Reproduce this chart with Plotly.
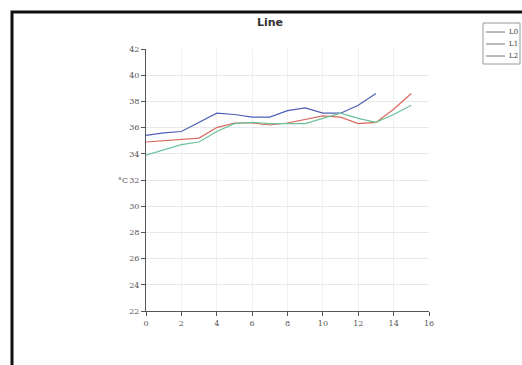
import plotly.graph_objects as go

x_l0 = list(range(14))
l0 = [35.4, 35.6, 35.7, 36.4, 37.1, 37.0, 36.8, 36.8, 37.3, 37.5, 37.1, 37.1, 37.7, 38.6]
x_l12 = list(range(16))
l1 = [34.9, 35.0, 35.05, 35.2, 36.0, 36.35, 36.35, 36.2, 36.35, 36.6, 36.9, 36.8, 36.3, 36.4, 37.4, 38.6]
l2 = [33.9, 34.3, 34.7, 34.9, 35.7, 36.3, 36.4, 36.3, 36.3, 36.3, 36.7, 37.1, 36.7, 36.4, 37.0, 37.7]
names = ["L0", "L1", "L2"]
colors = ["#4e5fb5", "#d9685e", "#6cc29a"]
x_ticks = list(range(0, 17, 2))
y_ticks = list(range(22, 43, 2))

L, T, PW, PH = 146, 49, 283, 262


def px(ax):
    return (ax - L) / PW


def py(ay):
    return (T + PH - ay) / PH


fig = go.Figure()
for xs, ys, n, c in [(x_l0, l0, names[0], colors[0]), (x_l12, l1, names[1], colors[1]), (x_l12, l2, names[2], colors[2])]:
    fig.add_trace(go.Scatter(x=xs, y=ys, name=n, mode="lines", line=dict(color=c, width=1.2),
                             showlegend=False))

fig.update_layout(
    width=522, height=365,
    margin=dict(l=L, r=522 - L - PW, t=T, b=365 - T - PH, autoexpand=False),
    paper_bgcolor="white", plot_bgcolor="white",
    title=dict(text="<b>Line</b>", x=270 / 522, xanchor="center", y=1 - 22 / 365,
               yanchor="middle", font=dict(family="DejaVu Sans", size=11, color="#333")),
    showlegend=False,
)
fig.update_xaxes(range=[0, 16], tickvals=x_ticks, showgrid=True, gridcolor="#f0f0f0",
                 showline=True, linecolor="#555", linewidth=1, ticks="outside", ticklen=4,
                 tickcolor="#555", zeroline=False,
                 tickfont=dict(family="DejaVu Serif", size=8, color="#555"))
fig.update_yaxes(range=[22, 42], tickvals=y_ticks, showgrid=True, gridcolor="#e8e8e8",
                 showline=True, linecolor="#555", linewidth=1, ticks="outside", ticklen=4,
                 tickcolor="#555", zeroline=False,
                 tickfont=dict(family="DejaVu Serif", size=8, color="#555"))
fig.add_annotation(text="°C", xref="paper", yref="y", x=px(116), y=32, showarrow=False,
                   font=dict(family="DejaVu Serif", size=8, color="#555"))

# outer frame
fig.add_shape(type="rect", xref="paper", yref="paper",
              x0=px(12), x1=1.6, y0=-0.5, y1=py(12),
              line=dict(color="#111", width=3), layer="above")

# legend box
fig.add_shape(type="rect", xref="paper", yref="paper",
              x0=px(483), x1=px(520), y0=py(64), y1=py(23),
              line=dict(color="#999", width=1), fillcolor="white", layer="above")
for i, n in enumerate(names):
    yy = 32 + 12 * i
    fig.add_shape(type="line", xref="paper", yref="paper",
                  x0=px(486), x1=px(505), y0=py(yy), y1=py(yy),
                  line=dict(color="#777", width=1), layer="above")
    fig.add_annotation(text=n, xref="paper", yref="paper", x=px(507), y=py(yy),
                       xanchor="left", yanchor="middle", showarrow=False,
                       font=dict(family="DejaVu Serif", size=7, color="#444"))

fig.write_html("out.html", config={"displayModeBar": False},
               post_script="document.body.style.margin='0';document.body.style.overflow='hidden';")
